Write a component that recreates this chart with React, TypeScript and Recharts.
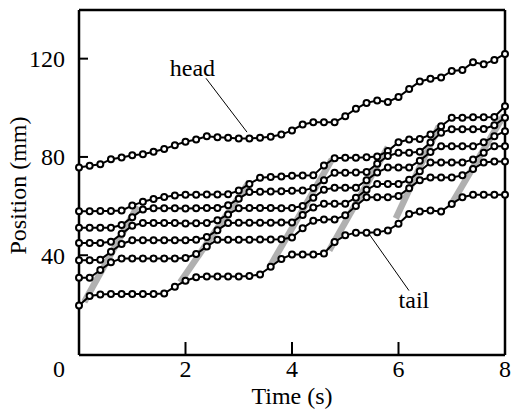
import React from "react";
import {
  LineChart,
  Line,
  XAxis,
  YAxis,
  ReferenceLine,
  ReferenceDot,
} from "recharts";

const FONT = '"Liberation Serif", "Times New Roman", serif';
const FS = 24;

// sample times, one marker every 0.2 s
const time = [
  0, 0.2, 0.4, 0.6, 0.8, 1, 1.2, 1.4, 1.6, 1.8, 2, 2.2, 2.4, 2.6, 2.8, 3, 3.2,
  3.4, 3.6, 3.8, 4, 4.2, 4.4, 4.6, 4.8, 5, 5.2, 5.4, 5.6, 5.8, 6, 6.2, 6.4, 6.6,
  6.8, 7, 7.2, 7.4, 7.6, 7.8, 8,
];

const head = [
  75.7, 76.4, 77.0, 79.1, 79.8, 80.7, 81.1, 82.1, 83.2, 84.8, 86.2, 87.1, 88.4,
  88.0, 87.8, 87.5, 87.5, 87.8, 88.2, 89.1, 90.8, 93.2, 94.1, 94.1, 94.1, 96.6,
  99.6, 102.0, 103.0, 102.4, 104.4, 107.6, 110.7, 111.8, 112.3, 115.0, 115.4,
  118.5, 117.7, 119.5, 121.9,
];
const seg1 = [
  57.9, 57.9, 58.0, 58.0, 58.2, 60.2, 61.8, 62.9, 63.7, 64.3, 64.6, 64.6, 64.7,
  64.7, 64.8, 66.3, 69.0, 71.5, 71.8, 72.0, 72.3, 72.4, 72.5, 76.5, 79.5, 79.7,
  79.7, 79.9, 80.2, 82.4, 86.0, 87.1, 87.3, 89.1, 92.5, 95.9, 96.0, 96.2, 96.2,
  96.3, 100.6,
];
const seg2 = [
  51.2, 51.2, 51.2, 51.2, 52.3, 55.5, 58.6, 59.1, 59.1, 59.1, 59.0, 59.1, 59.2,
  59.2, 60.3, 63.0, 65.7, 65.8, 65.9, 66.0, 66.2, 66.3, 67.4, 70.5, 73.6, 73.6,
  73.7, 73.9, 77.2, 80.4, 81.7, 81.7, 82.1, 85.9, 89.8, 91.3, 91.3, 91.3, 91.4,
  92.9, 96.0,
];
const seg3 = [
  45.0, 45.0, 45.0, 45.5, 48.7, 52.0, 53.1, 53.1, 53.1, 53.1, 52.9, 53.0, 53.1,
  54.2, 56.6, 59.1, 59.2, 59.2, 59.2, 59.1, 59.2, 60.0, 63.4, 66.7, 67.5, 67.5,
  67.5, 70.5, 73.7, 75.7, 75.7, 75.7, 78.5, 82.0, 84.4, 84.4, 84.4, 84.4, 86.0,
  88.4, 90.5,
];
const seg4 = [
  38.0, 38.0, 38.2, 41.4, 44.6, 46.1, 46.1, 46.1, 46.1, 46.1, 46.1, 46.3, 47.4,
  50.2, 53.1, 53.2, 53.2, 53.2, 53.2, 53.3, 53.3, 56.4, 59.4, 61.0, 61.0, 61.0,
  63.4, 66.6, 69.0, 69.0, 69.0, 70.7, 74.2, 77.7, 77.7, 77.7, 77.7, 79.0, 81.7,
  84.4, 84.4,
];
const seg5 = [
  30.8, 30.8, 34.0, 37.1, 38.7, 38.7, 38.7, 38.7, 38.7, 38.7, 38.9, 40.5, 43.6,
  46.3, 46.3, 46.3, 46.3, 46.4, 46.4, 46.5, 47.2, 51.0, 54.0, 54.5, 54.5, 56.3,
  60.0, 63.6, 63.6, 63.6, 64.1, 67.3, 70.5, 71.6, 71.6, 71.6, 72.5, 75.1, 77.7,
  78.1, 78.1,
];
const tail = [
  19.5, 23.4, 24.0, 24.2, 24.2, 24.2, 24.2, 24.2, 24.4, 27.2, 29.6, 31.0, 31.3,
  31.3, 31.3, 31.3, 31.5, 32.2, 35.3, 38.5, 40.3, 40.3, 40.3, 40.7, 45.4, 48.1,
  49.2, 49.2, 49.4, 50.1, 52.8, 56.8, 57.8, 58.2, 57.8, 60.9, 63.6, 64.6, 64.6,
  64.6, 64.6,
];

// grey bands: start / end of each contraction wave (t, mm)
const waveStart = [
  [0.1, 21],
  [1.9, 29],
  [3.6, 36],
  [4.7, 42],
  [5.95, 55],
  [7.0, 61],
];
const waveEnd = [
  [1.1, 60],
  [3.2, 70],
  [4.75, 79],
  [5.8, 84],
  [6.76, 92.5],
  [7.98, 97],
];

const xTicks = [0, 2, 4, 6, 8];
const yTicks = [40, 80, 120];

const seriesKeys = ["head", "seg1", "seg2", "seg3", "seg4", "seg5", "tail"];
const seriesValues = [head, seg1, seg2, seg3, seg4, seg5, tail];

const rows = time.map((t, i) => {
  const row: Record<string, number> = { t };
  seriesKeys.forEach((k, j) => {
    row[k] = seriesValues[j][i];
  });
  return row;
});

const bands = waveStart.map((s, i) => [
  { t: s[0], v: s[1] },
  { t: waveEnd[i][0], v: waveEnd[i][1] },
]);

function XTick(props: any) {
  const { x, y, payload } = props;
  const shift = payload.value === 0 ? -20 : 0;
  return (
    <text
      x={x + shift}
      y={y}
      dy="0.71em"
      textAnchor="middle"
      fontSize={FS}
      fontFamily={FONT}
      fill="#000"
    >
      {payload.value}
    </text>
  );
}

export default function App() {
  return (
    <div style={{ position: "absolute", left: 0, top: 0, background: "#fff" }}>
      <LineChart
        width={512}
        height={415}
        data={rows}
        margin={{ top: 10, right: 7, left: 19, bottom: 30 }}
      >
        <XAxis
          dataKey="t"
          type="number"
          domain={[0, 8]}
          ticks={xTicks}
          height={30}
          tickSize={-13}
          tickMargin={18}
          tick={<XTick />}
          axisLine={{ stroke: "#000", strokeWidth: 2.5 }}
          tickLine={{ stroke: "#000", strokeWidth: 2 }}
          label={{
            value: "Time (s)",
            position: "bottom",
            offset: 2,
            fill: "#000",
            fontSize: FS,
            fontFamily: FONT,
          }}
        />
        <YAxis
          type="number"
          domain={[-0.6, 139.8]}
          ticks={yTicks}
          width={60}
          tickSize={-9}
          tickMargin={23}
          tick={{ fill: "#000", fontSize: FS, fontFamily: FONT }}
          axisLine={{ stroke: "#000", strokeWidth: 2.5 }}
          tickLine={{ stroke: "#000", strokeWidth: 2 }}
          label={{
            value: "Position (mm)",
            angle: -90,
            position: "center",
            dx: -32,
            dy: 3,
            fill: "#000",
            fontSize: FS,
            fontFamily: FONT,
          }}
        />
        <ReferenceLine y={139.8} stroke="#000" strokeWidth={2.5} />
        <ReferenceLine x={8} stroke="#000" strokeWidth={2.5} />

        {bands.map((b, i) => (
          <Line
            key={"band" + i}
            data={b}
            dataKey="v"
            stroke="#b0b0b0"
            strokeWidth={6.5}
            dot={false}
            activeDot={false}
            isAnimationActive={false}
          />
        ))}

        {seriesKeys.map((k) => (
          <Line
            key={k}
            dataKey={k}
            type="linear"
            stroke="#000"
            strokeWidth={2}
            dot={{ r: 3, stroke: "#000", strokeWidth: 2, fill: "#fff" }}
            activeDot={false}
            isAnimationActive={false}
          />
        ))}

        <ReferenceLine
          segment={[
            { x: 2.385, y: 112 },
            { x: 3.155, y: 90.1 },
          ]}
          stroke="#000"
          strokeWidth={1}
        />
        <ReferenceLine
          segment={[
            { x: 5.446, y: 48.7 },
            { x: 6.197, y: 25.6 },
          ]}
          stroke="#000"
          strokeWidth={1}
        />
        <ReferenceDot
          x={2.13}
          y={116.5}
          r={0}
          fill="none"
          stroke="none"
          label={{
            value: "head",
            position: "center",
            fill: "#000",
            fontSize: FS,
            fontFamily: FONT,
          }}
        />
        <ReferenceDot
          x={6.29}
          y={22.1}
          r={0}
          fill="none"
          stroke="none"
          label={{
            value: "tail",
            position: "center",
            fill: "#000",
            fontSize: FS,
            fontFamily: FONT,
          }}
        />
      </LineChart>
    </div>
  );
}
